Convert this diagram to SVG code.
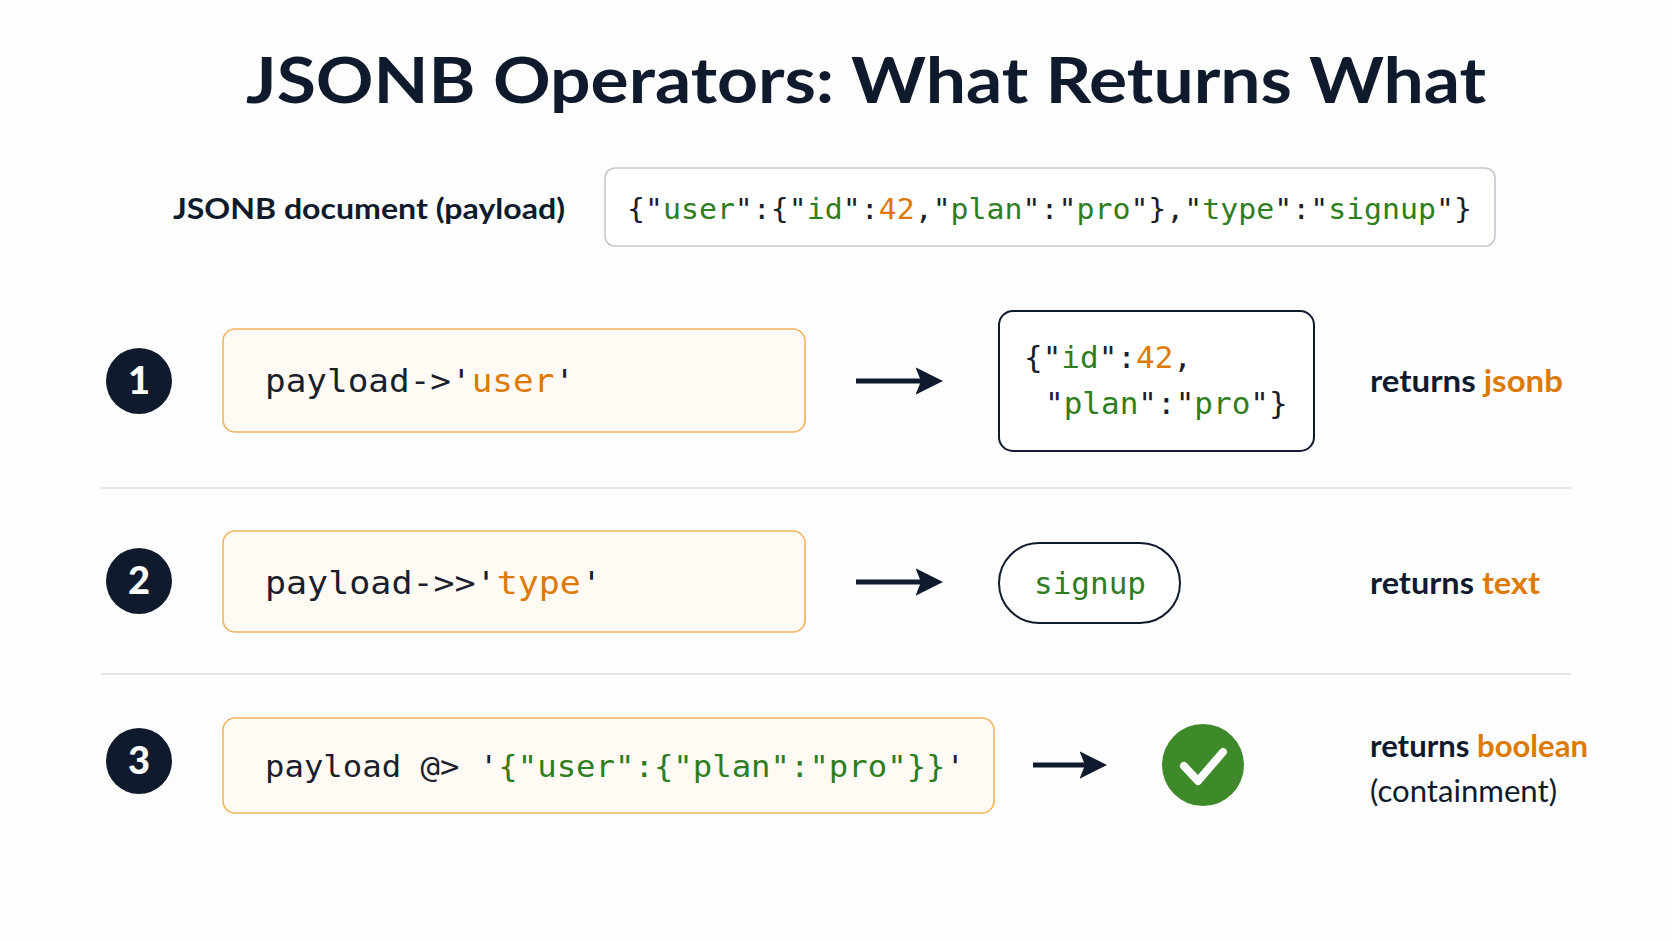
<svg xmlns="http://www.w3.org/2000/svg" width="1672" height="941" viewBox="0 0 1672 941">
<style>
.sans{font-family:Lato,"Open Sans","Liberation Sans",sans-serif;fill:#0f1b2d}
.b{font-weight:700}
.mono{font-family:"DejaVu Sans Mono","Liberation Mono",monospace;fill:#1a1f2b}
.g{fill:#2e7d1f}.o{fill:#dd7a06}
.code{fill:#fffaf3;stroke:#f3b35e;stroke-width:1.6}
.res{fill:#fff;stroke:#0f1b2d;stroke-width:2}
.sep{stroke:#dcdcdc;stroke-width:1.6}
.arr{stroke:#0f1b2d;stroke-width:5;fill:none}
.num{font-family:Lato,"Liberation Sans",sans-serif;font-weight:900;fill:#fff}
</style>
<defs><marker id="ah" viewBox="0 0 10 10" refX="6" refY="5" markerWidth="5.5" markerHeight="6" orient="auto"><path d="M0,0 L10,5 L0,10 L2,5 z" fill="#0f1b2d"/></marker></defs>
<rect width="1672" height="941" fill="#fdfdfd"/>
<text id="title" class="sans b" x="866" y="103" font-size="64" text-anchor="middle" textLength="1240" lengthAdjust="spacingAndGlyphs">JSONB Operators: What Returns What</text>
<g id="doc">
<text class="sans b" x="565" y="219" font-size="29" text-anchor="end" textLength="392" lengthAdjust="spacingAndGlyphs">JSONB document (payload)</text>
<rect x="605" y="168" width="890" height="78" rx="10" fill="#fff" stroke="#c4c8cf" stroke-width="1.6"/>
<text class="mono" x="627" y="219" font-size="28" textLength="845" lengthAdjust="spacingAndGlyphs">{"<tspan class="g">user</tspan>":{"<tspan class="g">id</tspan>":<tspan class="o">42</tspan>,"<tspan class="g">plan</tspan>":"<tspan class="g">pro</tspan>"},"<tspan class="g">type</tspan>":"<tspan class="g">signup</tspan>"}</text>
</g>
<g id="row1">
<circle cx="139" cy="381" r="33" fill="#0f1b2d"/><text class="num" x="139" y="394" font-size="38" text-anchor="middle">1</text>
<rect class="code" x="223" y="329" width="582" height="103" rx="12"/>
<text class="mono" x="265" y="392" font-size="32" textLength="310" lengthAdjust="spacingAndGlyphs">payload-&gt;'<tspan class="o">user</tspan>'</text>
<rect class="res" x="999" y="311" width="315" height="140" rx="14"/>
<text class="mono" x="1024" y="368" font-size="31">{"<tspan class="g">id</tspan>":<tspan class="o">42</tspan>,</text>
<text class="mono" x="1045" y="414" font-size="31">"<tspan class="g">plan</tspan>":"<tspan class="g">pro</tspan>"}</text>
<text class="sans b" x="1370" y="392" font-size="31" textLength="193" lengthAdjust="spacingAndGlyphs">returns <tspan class="o">jsonb</tspan></text>
</g>
<g id="row2">
<circle cx="139" cy="581" r="33" fill="#0f1b2d"/><text class="num" x="139" y="594" font-size="38" text-anchor="middle">2</text>
<rect class="code" x="223" y="531" width="582" height="101" rx="12"/>
<text class="mono" x="265" y="594" font-size="32" textLength="337" lengthAdjust="spacingAndGlyphs">payload-&gt;&gt;'<tspan class="o">type</tspan>'</text>
<rect class="res" x="999" y="543" width="181" height="80" rx="40"/>
<text class="mono g" x="1090" y="594" font-size="31" text-anchor="middle">signup</text>
<text class="sans b" x="1370" y="594" font-size="31" textLength="170" lengthAdjust="spacingAndGlyphs">returns <tspan class="o">text</tspan></text>
</g>
<g id="row3">
<circle cx="139" cy="761" r="33" fill="#0f1b2d"/><text class="num" x="139" y="774" font-size="38" text-anchor="middle">3</text>
<rect class="code" x="223" y="718" width="771" height="95" rx="12"/>
<text class="mono" x="265" y="777" font-size="31" textLength="700" lengthAdjust="spacingAndGlyphs">payload @&gt; '<tspan class="g">{"user":{"plan":"pro"}}</tspan>'</text>
<circle cx="1203" cy="765" r="41" fill="#3e8a2a"/>
<path d="M1184,766 L1198,781 L1223,752" fill="none" stroke="#fff" stroke-width="8" stroke-linecap="round" stroke-linejoin="round"/>
<text class="sans b" x="1370" y="757" font-size="31" textLength="218" lengthAdjust="spacingAndGlyphs">returns <tspan class="o">boolean</tspan></text>
<text class="sans" x="1370" y="802" font-size="31" textLength="187" lengthAdjust="spacingAndGlyphs">(containment)</text>
</g>
<g id="connectors">
<line class="sep" x1="101" y1="488" x2="1571" y2="488"/>
<line class="sep" x1="101" y1="674" x2="1571" y2="674"/>
<line class="arr" x1="856" y1="381" x2="932" y2="381" marker-end="url(#ah)"/>
<line class="arr" x1="856" y1="582" x2="932" y2="582" marker-end="url(#ah)"/>
<line class="arr" x1="1033" y1="765" x2="1096" y2="765" marker-end="url(#ah)"/>
</g>
</svg>
